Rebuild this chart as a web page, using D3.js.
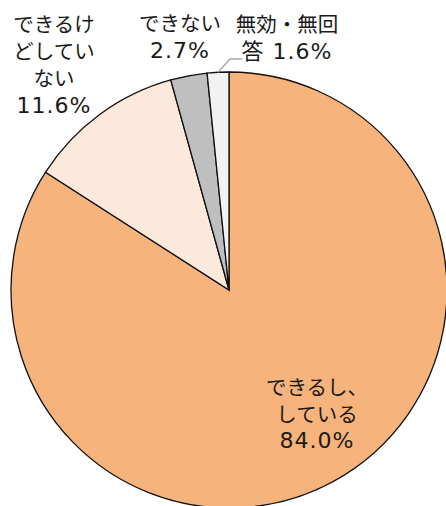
<!DOCTYPE html>
<meta charset="utf-8">
<script src="https://d3js.org/d3.v7.min.js"></script>
<style>
  body { margin: 0; background: #fff; }
  text { font-family: "DejaVu Sans", "Noto Sans CJK JP", sans-serif; fill: #1a1a1a; }
</style>
<div id="my_dataviz"></div>
<script>
  // data
  const categories = ["できるし、している", "できるけどしていない", "できない", "無効・無回答"];
  const values = [84.0, 11.6, 2.7, 1.6];
  const colors = ["#F6B37B", "#FCE9DC", "#BFBFBF", "#F2F2F2"];
  // label lines for each slice
  const labelLines = [
    ["できるし、", "している", "84.0%"],
    ["できるけ", "どしてい", "ない", "11.6%"],
    ["できない", "2.7%"],
    ["無効・無回", "答 1.6%"]
  ];

  const width = 446, height = 506;
  const cx = 229, cy = 290, radius = 218;

  const svg = d3.select("#my_dataviz")
    .append("svg")
    .attr("width", width)
    .attr("height", height);

  const g = svg.append("g")
    .attr("transform", `translate(${cx}, ${cy})`);

  const pie = d3.pie().sort(null).value(d => d);
  const arcs = pie(values);
  const arc = d3.arc().innerRadius(0).outerRadius(radius);

  g.selectAll("path")
    .data(arcs)
    .join("path")
    .attr("d", arc)
    .attr("fill", (d, i) => colors[i])
    .attr("stroke", "#111")
    .attr("stroke-width", 1.3);

  // label anchor (centre x, first baseline) and line spacing
  const labelPos = [
    [317, 395, 26.5],
    [54, 32, 27],
    [180, 31, 27],
    [287, 32, 26.5]
  ];

  labelLines.forEach((lines, i) => {
    const [x, y, lh] = labelPos[i];
    const t = svg.append("text")
      .attr("x", x)
      .attr("y", y)
      .attr("text-anchor", "middle")
      .style("font-size", "20px");
    lines.forEach((s, j) => {
      const isNum = /\d/.test(s);
      t.append("tspan")
        .attr("x", x)
        .attr("dy", j === 0 ? 0 : lh)
        .style("font-size", isNum ? "22px" : "20.5px")
        .style("letter-spacing", isNum ? "1px" : "0px")
        .text(s);
    });
  });

  // leader line for the small slice
  const mid = (arcs[3].startAngle + arcs[3].endAngle) / 2;
  const p0 = [cx + Math.sin(mid) * radius, cy - Math.cos(mid) * radius];
  svg.append("polyline")
    .attr("points", [p0, [230, 59], [242, 59]].map(p => p.join(",")).join(" "))
    .attr("fill", "none")
    .attr("stroke", "#A6A6A6")
    .attr("stroke-width", 1.3);
</script>
